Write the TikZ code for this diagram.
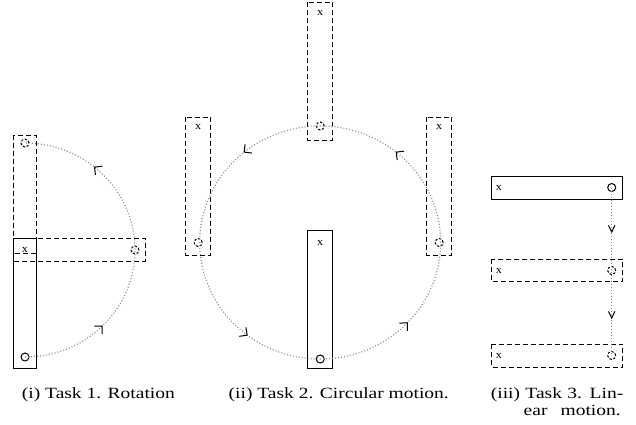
\documentclass[tikz,border=0pt]{standalone}
\usepackage{fontspec}
\setmainfont{Liberation Serif}
\newfontfamily\capfont[FakeStretch=1.25]{Liberation Serif}
\newfontfamily\labfont[FakeStretch=1.1]{Liberation Serif}
\usetikzlibrary{decorations.markings}
\begin{document}
\begin{tikzpicture}[x=0.5pt,y=-0.5pt,
  rod/.style={draw=black,line width=0.5pt},
  ghost/.style={draw=black,line width=0.5pt,dash pattern=on 2.5pt off 1.5pt},
  trail/.style={draw=black!45,line width=0.6pt,dash pattern=on 0.5pt off 1pt},
  lab/.style={font=\labfont\fontsize{5.5pt}{6pt}\selectfont,inner sep=0pt},
  captxt/.style={font=\capfont\fontsize{7.8pt}{8.5pt}\selectfont,inner sep=0pt,anchor=base west},
  hole/.style={circle,draw=black,line width=0.5pt,inner sep=0pt,minimum size=4pt},
  ghosthole/.style={hole,dash pattern=on 1.2pt off 0.8pt},
  barb/.style={draw=black,solid,line width=0.5pt},
  mk/.style={postaction={decorate,decoration={markings,
     mark=at position #1 with {\draw[barb] (-2.8pt,2.8pt) -- (0,0) -- (-2.8pt,-2.8pt);}}}},
  mkv/.style={postaction={decorate,decoration={markings,
     mark=at position #1 with {\draw[barb] (-3.3pt,1.6pt) -- (0,0) -- (-3.3pt,-1.6pt);}}}},
]
\useasboundingbox (0,0) rectangle (636,424);

% ---------- panel (i): rotation ----------
\draw[rod] (13,238) rectangle (36,368);
\draw[ghost] (13,135) rectangle (36,253);
\draw[ghost] (13,238) rectangle (145,261);
\node[lab] (x1) at (25,249.5) {x};
\node[hole] (c1a) at (25,357) {};
\node[ghosthole] (c1b) at (135,250) {};
\node[ghosthole] (c1c) at (25,143) {};
\draw[trail,mk=0.25,mk=0.78] (c1a.center) arc[start angle=90,end angle=-90,x radius=110,y radius=107];

% ---------- panel (ii): circular motion ----------
\draw[rod] (307.7,230.7) rectangle (332.7,368);
\draw[ghost] (307.7,2) rectangle (332.7,140);
\draw[ghost] (185.7,117) rectangle (210.7,255);
\draw[ghost] (426.7,117) rectangle (451.7,255);
\node[lab] (x2a) at (320.2,243) {x};
\node[lab] (x2b) at (320.2,13) {x};
\node[lab] (x2c) at (198.2,127) {x};
\node[lab] (x2d) at (439.2,127) {x};
\node[hole] (c2a) at (320.2,359) {};
\node[ghosthole] (c2b) at (320.2,126) {};
\node[ghosthole] (c2c) at (198.2,242.5) {};
\node[ghosthole] (c2d) at (439.2,242.5) {};
\draw[trail,mk=0.13,mk=0.39,mk=0.61,mk=0.895] (c2a.center) arc[start angle=90,end angle=-270,x radius=120.5,y radius=116.5];

% ---------- panel (iii): linear motion ----------
\draw[rod] (491.7,176) rectangle (622.7,199);
\draw[ghost] (491.7,259) rectangle (622.7,281.7);
\draw[ghost] (491.7,344) rectangle (622.7,367);
\node[lab] (x3a) at (499,187.5) {x};
\node[lab] (x3b) at (499,270.5) {x};
\node[lab] (x3c) at (499,355.5) {x};
\node[hole] (c3a) at (611.7,187.5) {};
\node[ghosthole] (c3b) at (611.7,270.5) {};
\node[ghosthole] (c3c) at (611.7,355.5) {};
\draw[trail,mkv=0.265,mkv=0.777] (c3a.center) -- (c3c.center);

% ---------- captions ----------
\node[captxt] (t1) at (21.5,398) {(i) Task 1. Rotation};
\node[captxt] (t2) at (228.3,398) {(ii) Task 2. Circular motion.};
\node[captxt] (t3) at (490.5,398) {\makebox[66.2pt][s]{(iii) Task 3. Lin-}};
\node[captxt] (t4) at (523.3,415) {\makebox[48.5pt][s]{ear motion.}};
\end{tikzpicture}
\end{document}
